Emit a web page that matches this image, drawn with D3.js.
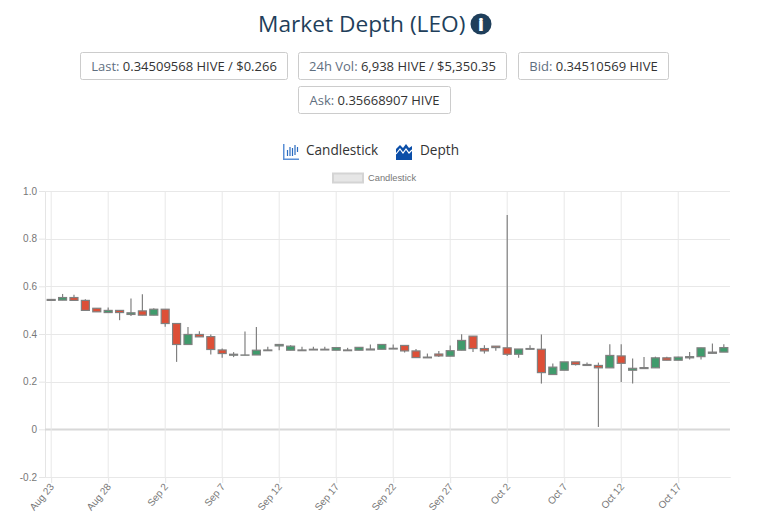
<!DOCTYPE html>
<html>
<head>
<meta charset="utf-8">
<script src="https://cdn.jsdelivr.net/npm/d3@7"></script>
<style>
html, body { margin: 0; padding: 0; background: #fff; overflow: hidden; }
text { font-family: "Open Sans", sans-serif; }
.tick text { font-family: "Liberation Sans", Arial, sans-serif; font-size: 10px; fill: #777; }
</style>
</head>
<body>
<script>
const startDate = "2020-08-23"
const tickLabels = ["2020-08-23","2020-08-28","2020-09-02","2020-09-07","2020-09-12","2020-09-17","2020-09-22","2020-09-27","2020-10-02","2020-10-07","2020-10-12","2020-10-17"]
const yTicks = [-0.2, 0, 0.2, 0.4, 0.6, 0.8, 1.0]

// one entry per day
const opens = [.541,.542,.553,.541,.508,.490,.499,.482,.497,.479,.504,.444,.356,.398,.389,.333,.311,.311,.312,.330,.350,.332,.330,.333,.333,.332,.330,.332,.333,.336,.337,.352,.329,.300,.316,.307,.332,.391,.339,.349,.342,.315,.336,.336,.230,.248,.283,.272,.268,.258,.308,.248,.255,.258,.300,.290,.300,.305,.319,.324]
const closes = [.545,.553,.541,.499,.493,.499,.490,.489,.479,.504,.444,.356,.398,.388,.335,.318,.315,.312,.332,.333,.356,.349,.333,.336,.336,.343,.333,.344,.337,.356,.340,.329,.301,.303,.308,.330,.373,.339,.329,.343,.315,.337,.339,.238,.261,.283,.272,.268,.258,.310,.277,.256,.259,.300,.290,.303,.305,.342,.324,.343]
const highs = [.545,.568,.565,.546,.508,.511,.499,.549,.567,.508,.504,.444,.429,.412,.398,.339,.324,.410,.429,.347,.356,.353,.346,.346,.346,.344,.342,.345,.356,.356,.356,.352,.337,.318,.329,.352,.399,.391,.353,.349,.899,.337,.353,.398,.276,.283,.283,.280,.280,.357,.357,.297,.304,.305,.305,.305,.325,.342,.360,.357]
const lows = [.541,.542,.541,.499,.493,.490,.458,.476,.479,.479,.430,.283,.356,.388,.314,.300,.303,.311,.312,.330,.332,.332,.330,.333,.333,.332,.330,.332,.333,.336,.337,.322,.301,.300,.304,.307,.332,.325,.318,.330,.308,.300,.336,.192,.230,.248,.268,.268,.010,.258,.199,.192,.255,.258,.290,.290,.293,.293,.319,.324]

const width = 768, height = 529
const parseDay = d3.utcParse("%Y-%m-%d")
const firstDay = parseDay(startDate)
const days = opens.map((d, i) => d3.utcDay.offset(firstDay, i))

const svg = d3.select("body").append("svg")
    .attr("width", width)
    .attr("height", height)
    .style("display", "block")

// header
svg.append("text")
    .attr("x", 258).attr("y", 32)
    .attr("font-size", 22.7)
    .attr("fill", "#1f3f5b")
    .text("Market Depth (LEO)")

svg.append("circle").attr("cx", 481).attr("cy", 24).attr("r", 10.5).attr("fill", "#1f3f5b")
svg.append("text").attr("x", 481).attr("y", 31)
    .attr("text-anchor", "middle")
    .attr("font-size", 18).attr("font-weight", 800)
    .attr("fill", "#fff").text("i")

const stats = [
  {label: "Last:", value: "0.34509568 HIVE / $0.266", x: 80, y: 52, w: 208},
  {label: "24h Vol:", value: "6,938 HIVE / $5,350.35", x: 298, y: 52, w: 209},
  {label: "Bid:", value: "0.34510569 HIVE", x: 518, y: 52, w: 151},
  {label: "Ask:", value: "0.35668907 HIVE", x: 298, y: 86, w: 153}
]
const stat = svg.append("g").selectAll("g").data(stats).join("g")
    .attr("transform", d => `translate(${d.x},${d.y})`)
stat.append("rect")
    .attr("x", .5).attr("y", .5)
    .attr("width", d => d.w - 1).attr("height", 27)
    .attr("rx", 2)
    .attr("fill", "#fff").attr("stroke", "#ccc")
const statText = stat.append("text")
    .attr("x", d => d.w / 2).attr("y", 19)
    .attr("text-anchor", "middle")
    .attr("font-size", 13)
statText.append("tspan").attr("fill", "#5f6f7f").text(d => d.label + " ")
statText.append("tspan").attr("fill", "#333").text(d => d.value)

// tabs
const icons = svg.append("g")
const candleIcon = icons.append("g").attr("transform", "translate(283,144)").attr("fill", "none")
candleIcon.append("path").attr("d", "M.75 0V15.25H16").attr("stroke", "#5a8fd6").attr("stroke-width", 1.5)
candleIcon.append("path").attr("d", "M4.5 6V12M7 3V12M9.5 4V12M12 1V11M14.5 3V8").attr("stroke", "#2a6cc0").attr("stroke-width", 1.2)
const depthIcon = icons.append("g").attr("transform", "translate(396,143)")
depthIcon.append("path")
    .attr("fill", "#0b4ea8")
    .attr("d", "M0 6L4 2L7 5L10 1L13 5L16 3V17H0Z")
depthIcon.append("path")
    .attr("fill", "none").attr("stroke", "#fff").attr("stroke-width", 1.2)
    .attr("d", "M0 11L4 6L7 10L10 6L13 10L16 7")
svg.append("text").attr("x", 306).attr("y", 155).attr("font-size", 13.6).attr("fill", "#333").text("Candlestick")
svg.append("text").attr("x", 420).attr("y", 155).attr("font-size", 13.6).attr("fill", "#333").text("Depth")

// chart legend
svg.append("rect").attr("x", 333).attr("y", 173.5).attr("width", 30).attr("height", 9)
    .attr("fill", "#e6e6e6").attr("stroke", "#d4d4d4").attr("stroke-width", 2)
svg.append("text").attr("x", 368).attr("y", 181)
    .style("font-family", "'Liberation Sans', Arial, sans-serif")
    .attr("font-size", 9.3).attr("fill", "#777").text("Candlestick")

// scales
const plotLeft = 45, plotRight = 730, plotTop = 191, plotBottom = 477
const x = d3.scaleUtc()
    .domain([d3.utcHour.offset(firstDay, -13), d3.utcHour.offset(days[days.length - 1], 13)])
    .range([plotLeft, plotRight])
const y = d3.scaleLinear().domain([-0.2, 1]).range([plotBottom, plotTop])

const xAxis = svg.append("g")
    .attr("transform", `translate(0,${plotBottom})`)
    .call(d3.axisBottom(x)
      .tickValues(tickLabels.map(parseDay))
      .tickFormat(d3.utcFormat("%b %-d"))
      .tickSize(6).tickSizeOuter(0))
xAxis.select(".domain").attr("stroke", "#ddd")
xAxis.selectAll(".tick line").attr("stroke", "#e5e5e5")
xAxis.selectAll(".tick text")
    .attr("text-anchor", "end")
    .attr("x", 0).attr("y", 0).attr("dy", 0)
    .attr("transform", "translate(3,10) rotate(-50)")

const yAxis = svg.append("g")
    .attr("transform", `translate(${plotLeft},0)`)
    .call(d3.axisLeft(y).tickValues(yTicks)
      .tickFormat(d => d === 1 ? "1.0" : d === 0 ? "0" : d.toFixed(1))
      .tickSize(6).tickSizeOuter(0).tickPadding(2))
yAxis.select(".domain").attr("stroke", "#e5e5e5")
yAxis.selectAll(".tick line").attr("stroke", "#e5e5e5")

// grid
svg.append("g").selectAll("line").data(yTicks).join("line")
    .attr("x1", plotLeft).attr("x2", plotRight)
    .attr("y1", d => Math.round(y(d)) + .5).attr("y2", d => Math.round(y(d)) + .5)
    .attr("stroke", d => d === 0 ? "#d8d8d8" : "#e8e8e8")
    .attr("stroke-width", d => d === 0 ? 2 : 1)
svg.append("g").selectAll("line").data(tickLabels.map(parseDay)).join("line")
    .attr("x1", d => x(d)).attr("x2", d => x(d))
    .attr("y1", plotTop).attr("y2", plotBottom)
    .attr("stroke", "#e8e8e8")

// candles
const candle = svg.append("g").selectAll("g").data(days).join("g")
const bodyWidth = 8
candle.append("line")
    .attr("x1", d => x(d)).attr("x2", d => x(d))
    .attr("y1", (d, i) => y(highs[i])).attr("y2", (d, i) => y(lows[i]))
    .attr("stroke", "#808080").attr("stroke-width", 1.2)
candle.append("rect")
    .attr("x", d => x(d) - bodyWidth / 2)
    .attr("width", bodyWidth)
    .attr("y", (d, i) => y(Math.max(opens[i], closes[i])))
    .attr("height", (d, i) => Math.abs(y(opens[i]) - y(closes[i])))
    .attr("fill", (d, i) => closes[i] < opens[i] ? "#dd4f37" : "#3f9b6c")
    .attr("stroke", "#808080").attr("stroke-width", 1.2)
</script>
</body>
</html>
